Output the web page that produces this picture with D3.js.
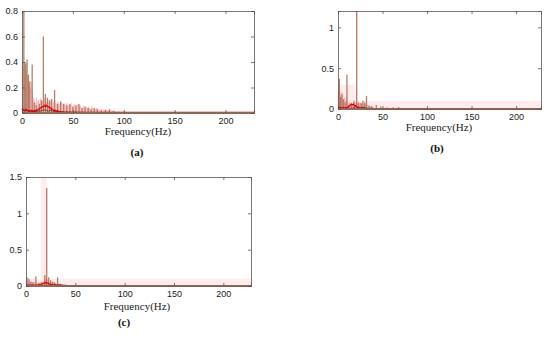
<!DOCTYPE html>
<html>
<head>
<meta charset="utf-8">
<script src="https://cdn.jsdelivr.net/npm/d3@7"></script>
<style>
  body { margin: 0; background: #fff; }
  svg { display: block; }
  .tick text { font-family: "Liberation Sans", Arial, sans-serif; font-size: 9px; fill: #222; }
</style>
</head>
<body>
<div id="chart"></div>
<script>
// ---- data ----
const xMax = 228;

// panel (a)
const tanA = [[1.8,0.8],[2.8,0.4],[3.8,0.39],[5,0.42],[6.3,0.3],[7.6,0.25],[10,0.38],[12,0.08],[14,0.06],[17,0.07],[19,0.1],
  [21,0.6],[23,0.15],[25,0.12],[27,0.1],[29,0.11],[32,0.18],[35,0.07],[38,0.09],[41,0.07],[44,0.06],[47,0.07],[50,0.05],
  [53,0.06],[56,0.07],[59,0.04],[62,0.05],[65,0.04],[68,0.03],[71,0.04],[74,0.03],[78,0.02],[82,0.025],[86,0.03],[90,0.015],[95,0.01],[100,0.01]];
const pinkA = [0.40,0.36,0.38,0.30,0.34,0.27,0.30,0.22,0.20,0.24,0.18,0.12,0.10,0.08,0.12,0.09,0.10,0.08,0.12,0.10,
  0.09,0.11,0.12,0.10,0.09,0.11,0.08,0.10,0.09,0.11,0.08,0.09,0.10,0.08,0.07,0.09,0.08,0.07,0.09,0.08,
  0.07,0.08,0.06,0.07,0.08,0.06,0.07,0.06,0.08,0.06,0.05,0.07,0.06,0.05,0.07,0.06,0.05,0.06,0.05,0.04,
  0.06,0.05,0.04,0.05,0.04,0.05,0.04,0.03,0.05,0.04,0.03,0.04,0.03,0.04,0.03,0.03,0.02,0.03,0.03,0.02,
  0.03,0.02,0.02,0.03,0.02,0.02,0.02,0.01,0.02,0.02,0.01,0.02,0.01,0.01,0.01,0.01,0.01,0.01,0.01,0.01];
const redA = [0.02,0.03,0.02,0.02,0.03,0.02,0.02,0.01,0.02,0.02,0.01,0.02,0.01,0.02,0.02,0.02,0.03,0.03,0.04,0.04,
  0.05,0.05,0.06,0.05,0.06,0.05,0.05,0.04,0.04,0.03,0.03,0.02,0.02,0.02,0.01,0.02,0.01,0.01,0.01,0.01,0.005];
const darkA = [0.04,0.015,0.02,0.015,0.015,0.01,0.015,0.01,0.015,0.015,0.02,0.025,0.02,0.015,0.02,0.015,0.01,0.015,0.01,0.008,
  0.01,0.008,0.008,0.007,0.007,0.006,0.007,0.006,0.005,0.006,0.005,0.004,0.004,0.004,0.004,0.003,0.003,0.003,0.003,0.003,0.003];
const shadeA = [];

// panel (b)
const tanB = [[1.5,0.37],[3,0.15],[4.5,0.18],[6,0.12],[8,0.08],[10,0.42],[12,0.05],[15,0.06],[18,0.1],[21,1.2],[23,0.08],
  [26,0.07],[28,0.1],[30,0.08],[32,0.16],[35,0.04],[38,0.03],[43,0.05],[48,0.03],[55,0.02],[62,0.02],[68,0.025],[75,0.01],[85,0.01]];
const pinkB = [0.2,0.25,0.18,0.22,0.15,0.2,0.12,0.14,0.1,0.12,0.15,0.08,0.07,0.09,0.07,0.08,0.06,0.07,0.08,0.07,
  0.09,0.08,0.07,0.06,0.07,0.08,0.06,0.07,0.05,0.06,0.06,0.05,0.04,0.05,0.04,0.04,0.03,0.04,0.03,0.03];
const redB = [0.01,0.02,0.01,0.02,0.01,0.01,0.02,0.01,0.01,0.02,0.02,0.02,0.03,0.04,0.05,0.06,0.05,0.06,0.05,0.04,
  0.04,0.03,0.02,0.02,0.02,0.01,0.01,0.01,0.01,0.01,0.005];
const darkB = [0.015,0.01,0.015,0.01,0.015,0.01,0.01,0.008,0.01,0.015,0.03,0.02,0.015,0.015,0.02,0.015,0.01,0.008,0.008,0.008,
  0.006,0.006,0.005,0.005,0.004,0.004,0.004,0.003,0.003,0.003,0.003];
const shadeB = [[0,0.3],[19,0.3],[20,0.1],[228,0.1]];

// panel (c)
const tanC = [[1,0.12],[3,0.1],[5,0.06],[7,0.05],[10,0.13],[13,0.04],[16,0.05],[19,0.15],[21,1.35],[23,0.12],[25,0.08],
  [27,0.06],[29,0.05],[32,0.12],[35,0.03],[40,0.02],[50,0.01],[60,0.01],[70,0.012]];
const pinkC = [0.08,0.1,0.06,0.08,0.05,0.06,0.04,0.05,0.06,0.05,0.07,0.04,0.05,0.04,0.06,0.05,0.06,0.05,0.08,0.1,
  0.12,0.09,0.08,0.07,0.06,0.05,0.05,0.04,0.05,0.04,0.04,0.03,0.04,0.03,0.03,0.02,0.02,0.02,0.02,0.02];
const redC = [0.01,0.01,0.01,0.01,0.01,0.01,0.01,0.01,0.01,0.01,0.01,0.01,0.01,0.015,0.02,0.02,0.03,0.03,0.04,0.04,
  0.05,0.04,0.04,0.03,0.03,0.02,0.02,0.01,0.01,0.01,0.005];
const darkC = [0.008,0.008,0.006,0.008,0.006,0.006,0.008,0.006,0.006,0.008,0.01,0.008,0.008,0.01,0.015,0.02,0.015,0.018,0.015,0.01,
  0.008,0.006,0.005,0.005,0.004,0.004,0.003,0.003,0.003,0.003,0.003];
const shadeC = [[0,0.1],[15,0.1],[15,1.5],[21,1.5],[21,0.1],[228,0.1]];

const xTicks = [0, 50, 100, 150, 200];

const panels = [
  {box: [22, 254, 11, 113], yMax: 0.8, yTicks: [0, 0.2, 0.4, 0.6, 0.8], tan: tanA, pink: pinkA, red: redA, dark: darkA,
   shade: shadeA, label: "(a)", xl: [138, 135], pl: [137, 156]},
  {box: [338, 541, 11, 109], yMax: 1.2, yTicks: [0, 0.5, 1], tan: tanB, pink: pinkB, red: redB, dark: darkB,
   shade: shadeB, label: "(b)", xl: [439, 131], pl: [437, 152]},
  {box: [26, 251, 177, 286], yMax: 1.5, yTicks: [0, 0.5, 1, 1.5], tan: tanC, pink: pinkC, red: redC, dark: darkC,
   shade: shadeC, label: "(c)", xl: [137, 310], pl: [124, 326]}
];

const svg = d3.select("#chart").append("svg")
  .attr("width", 550)
  .attr("height", 339);

panels.forEach(p => drawPanel(p));

function drawPanel(p) {
  const [x0, x1, y0, y1] = p.box;
  const x = d3.scaleLinear().domain([0, xMax]).range([x0, x1]);
  const y = d3.scaleLinear().domain([0, p.yMax]).range([y1, y0]);
  const g = svg.append("g");

  // light pink background shading
  if (p.shade.length) {
    g.append("path")
      .datum(p.shade)
      .attr("d", d3.area().x(d => x(d[0])).y0(y(0)).y1(d => y(d[1])))
      .attr("fill", "#ff9fb0")
      .attr("opacity", 0.2);
  }

  // pink stems, 1 Hz apart
  g.selectAll(".pink")
    .data(p.pink)
    .enter()
    .append("line")
    .attr("x1", (d, i) => x(i + 0.3)).attr("x2", (d, i) => x(i + 0.3))
    .attr("y1", y(0)).attr("y2", d => y(d))
    .attr("stroke", "#ff3a4a")
    .attr("stroke-opacity", 0.35)
    .attr("stroke-width", 1);

  // tan spikes
  g.selectAll(".tan")
    .data(p.tan)
    .enter()
    .append("line")
    .attr("x1", d => x(d[0])).attr("x2", d => x(d[0]))
    .attr("y1", y(0)).attr("y2", d => y(d[1]))
    .attr("stroke", d => d[1] > 1 ? "#b86450" : "#a8755a")
    .attr("stroke-opacity", 0.9)
    .attr("stroke-width", 1.3);

  const line = d3.line().x(d => x(d[0])).y(d => y(d[1]));

  // dark line (2 Hz steps)
  const dark = p.dark.map((v, i) => [i * 2, v]);
  dark.push([xMax, p.dark[p.dark.length - 1]]);
  g.append("path").datum(dark)
    .attr("d", line)
    .attr("fill", "none").attr("stroke", "#4a1008").attr("stroke-width", 0.7);

  // red line (1 Hz steps)
  const red = p.red.map((v, i) => [i, v]);
  red.push([xMax, p.red[p.red.length - 1]]);
  g.append("path").datum(red)
    .attr("d", line)
    .attr("fill", "none").attr("stroke", "#e80000").attr("stroke-width", 1.3);

  // baseline tint along the bottom
  g.append("path").datum([[0, 0.004 * p.yMax], [xMax, 0.004 * p.yMax]])
    .attr("d", line)
    .attr("fill", "none").attr("stroke", "#a8653f").attr("stroke-width", 1);

  // axes, MATLAB style box with inward ticks
  g.append("g")
    .attr("transform", `translate(0,${y1})`)
    .call(d3.axisBottom(x).tickValues(xTicks).tickSize(-3).tickPadding(5).tickFormat(d3.format("d")));
  g.append("g")
    .attr("transform", `translate(0,${y0})`)
    .call(d3.axisTop(x).tickValues(xTicks).tickSize(-3).tickFormat(""));
  g.append("g")
    .attr("transform", `translate(${x0},0)`)
    .call(d3.axisLeft(y).tickValues(p.yTicks).tickSize(-3).tickPadding(4).tickFormat(d => String(d)));
  g.append("g")
    .attr("transform", `translate(${x1},0)`)
    .call(d3.axisRight(y).tickValues(p.yTicks).tickSize(-3).tickFormat(""));
  g.selectAll(".domain").attr("stroke", "#555").attr("stroke-width", 0.8);
  g.selectAll(".tick line").attr("stroke", "#555").attr("stroke-width", 0.8);

  g.append("text")
    .attr("x", p.xl[0]).attr("y", p.xl[1])
    .attr("text-anchor", "middle")
    .attr("font-family", "Times New Roman, Liberation Serif, DejaVu Serif, serif")
    .attr("font-size", 11)
    .attr("fill", "#222")
    .text("Frequency(Hz)");

  g.append("text")
    .attr("x", p.pl[0]).attr("y", p.pl[1])
    .attr("text-anchor", "middle")
    .attr("font-family", "Times New Roman, Liberation Serif, DejaVu Serif, serif")
    .attr("font-size", 11)
    .attr("font-weight", "bold")
    .attr("fill", "#111")
    .text(p.label);
}
</script>
</body>
</html>
